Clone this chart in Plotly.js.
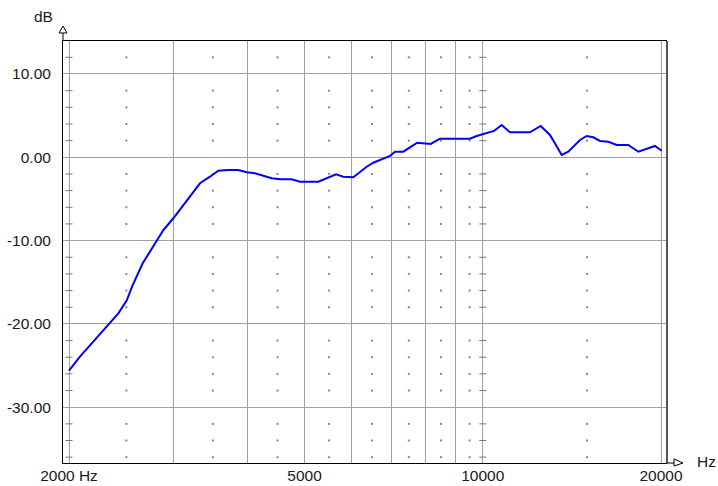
<!DOCTYPE html>
<html>
<head>
<meta charset="utf-8">
<script src="https://cdn.plot.ly/plotly-3.0.1.min.js"></script>
<style>html,body{margin:0;padding:0;background:#fff;}#chart{width:718px;height:486px;}</style>
</head>
<body>
<div id="chart"></div>
<script>
// Frequency response (Hz, dB)
var freqHz = [2000, 2087, 2198, 2339, 2423, 2503, 2560, 2664, 2776, 2887, 3001, 3162, 3329, 3461, 3574, 3716, 3864, 3992, 4123, 4399, 4543, 4755, 4911, 5276, 5451, 5650, 5812, 6043, 6367, 6532, 6970, 7107, 7340, 7750, 8166, 8467, 8690, 9515, 9766, 10086, 10445, 10763, 11116, 12013, 12524, 12988, 13593, 13945, 14596, 14981, 15369, 15777, 16294, 16836, 17613, 18311, 18794, 19540, 20054];
var gainDb = [-25.6, -23.94, -22.14, -20.01, -18.73, -17.2, -15.4, -12.73, -10.73, -8.73, -7.32, -5.13, -3.12, -2.33, -1.61, -1.52, -1.52, -1.80, -1.92, -2.52, -2.64, -2.64, -2.93, -2.93, -2.52, -2.04, -2.33, -2.40, -1.13, -0.65, 0.16, 0.67, 0.67, 1.75, 1.60, 2.23, 2.23, 2.23, 2.56, 2.88, 3.16, 3.88, 3.00, 3.00, 3.76, 2.68, 0.28, 0.67, 2.08, 2.56, 2.40, 1.96, 1.87, 1.48, 1.48, 0.67, 0.96, 1.36, 0.79];

// Axis ticks and grid
var xMajorTicks = [2000, 3000, 4000, 5000, 6000, 7000, 8000, 9000, 10000, 20000];
var xTickLabels = ['2000 Hz', '', '', '5000', '', '', '', '', '10000', '20000'];
var yMajorTicks = [-30, -20, -10, 0, 10];
var yTickLabels = ['-30.00', '-20.00', '-10.00', '0.00', '10.00'];
var xMinorTicks = [2500, 3500, 4500, 5500, 6500, 7500, 8500, 9500, 15000];
var yMinorTicks = [-36, -34, -32, -28, -26, -24, -22, -18, -16, -14, -12, -8, -6, -4, -2, 2, 4, 6, 8, 12];
var xDashLines = [2000, 10000];

var dotX = [], dotY = [];
xMinorTicks.forEach(function (fx) { yMinorTicks.forEach(function (vy) { dotX.push(fx); dotY.push(vy); }); });
var dashX = [], dashY = [];
xDashLines.forEach(function (fx) { yMinorTicks.forEach(function (vy) { dashX.push(fx); dashY.push(vy); }); });

var font = 'Arial, "Liberation Sans", sans-serif';
var fs = 15.5;

var traces = [
  { x: dotX, y: dotY, type: 'scatter', mode: 'markers', hoverinfo: 'skip',
    marker: { symbol: 'square', size: 2, color: '#888888', line: { width: 0 } } },
  { x: dashX, y: dashY, type: 'scatter', mode: 'markers', hoverinfo: 'skip',
    marker: { symbol: 'line-ew', size: 5, line: { width: 1, color: '#777777' } } },
  { x: freqHz, y: gainDb, type: 'scatter', mode: 'lines', hoverinfo: 'skip',
    line: { color: '#0000ff', width: 2 } }
];

var layout = {
  width: 718, height: 486, autosize: false,
  margin: { l: 63, r: 51, t: 41, b: 23, pad: 0 },
  paper_bgcolor: '#ffffff', plot_bgcolor: '#ffffff',
  showlegend: false,
  font: { family: font, size: fs, color: '#1a1a1a' },
  xaxis: {
    type: 'log', range: [3.29089, 4.31117],
    tickmode: 'array', tickvals: xMajorTicks, ticktext: xTickLabels,
    ticks: '', ticklabelstandoff: -2, showgrid: true, gridcolor: '#a0a0a0', gridwidth: 1,
    showline: true, linecolor: '#000000', linewidth: 1, mirror: true,
    zeroline: false, tickfont: { family: font, size: fs, color: '#1a1a1a' }
  },
  yaxis: {
    range: [-36.7, 13.96],
    tickmode: 'array', tickvals: yMajorTicks, ticktext: yTickLabels,
    ticks: '', ticklabelstandoff: 8, showgrid: true, gridcolor: '#a0a0a0', gridwidth: 1,
    showline: true, linecolor: '#000000', linewidth: 1, mirror: false,
    zeroline: false, tickfont: { family: font, size: fs, color: '#1a1a1a' }
  },
  shapes: [
    { type: 'line', xref: 'paper', yref: 'paper', x0: 1, x1: 1, y0: 0, y1: 1, line: { color: '#555555', width: 2 } },
    { type: 'line', xref: 'paper', yref: 'paper', x0: 0, x1: 0, y0: 1, y1: 1.019, line: { color: '#000000', width: 1 } },
    { type: 'path', xref: 'paper', yref: 'paper', path: 'M -0.0066,1.019 L 0.0066,1.019 L 0,1.0355 Z', fillcolor: '#ffffff', line: { color: '#000000', width: 1 } },
    { type: 'line', xref: 'paper', yref: 'paper', x0: 1, x1: 1.0116, y0: 0, y1: 0, line: { color: '#000000', width: 1 } },
    { type: 'path', xref: 'paper', yref: 'paper', path: 'M 1.0116,0.0095 L 1.0116,-0.0071 L 1.0265,0 Z', fillcolor: '#ffffff', line: { color: '#000000', width: 1 } }
  ],
  annotations: [
    { text: 'dB', xref: 'paper', yref: 'paper', x: -0.0331, y: 1.059, showarrow: false, xanchor: 'center', yanchor: 'middle', font: { family: font, size: fs, color: '#1a1a1a' } },
    { text: 'Hz', xref: 'paper', yref: 'paper', x: 1.066, y: 0.0047, showarrow: false, xanchor: 'center', yanchor: 'middle', font: { family: font, size: fs, color: '#1a1a1a' } }
  ]
};

Plotly.newPlot('chart', traces, layout, { displayModeBar: false, staticPlot: true });
</script>
</body>
</html>
